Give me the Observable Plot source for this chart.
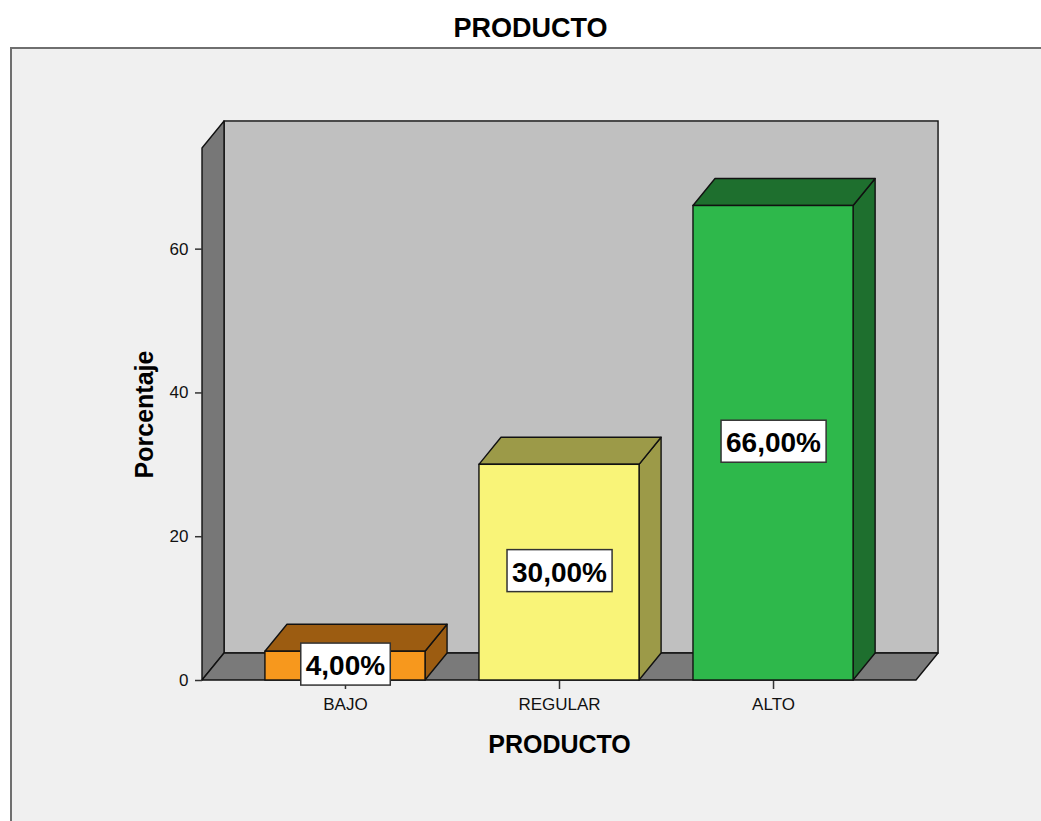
<!DOCTYPE html>
<html>
<head>
<meta charset="utf-8">
<script src="https://cdn.jsdelivr.net/npm/d3@7"></script>
<script src="https://cdn.jsdelivr.net/npm/@observablehq/plot@0.6"></script>
<style>
  html, body { margin: 0; padding: 0; background: #ffffff; overflow: hidden; }
  body { width: 1041px; height: 821px; position: relative; font-family: "Liberation Sans", Arial, sans-serif; }
  #title { position: absolute; left: 0; top: 15px; width: 1061px; text-align: center; font-size: 27px; font-weight: bold; line-height: 27px; color: #000; }
  #frame { position: absolute; left: 10px; top: 47px; width: 1100px; height: 900px; border-left: 2px solid #6f6f6f; border-top: 2px solid #6f6f6f; background: #f0f0f0; }
  #chart { position: absolute; left: 0; top: 48px; width: 1041px; height: 773px; }
</style>
</head>
<body>
<div id="title">PRODUCTO</div>
<div id="frame"></div>
<div id="chart"></div>
<script>
// ---- data ----
const categorias = ["BAJO", "REGULAR", "ALTO"];
const porcentajes = [4, 30, 66];
const etiquetas = ["4,00%", "30,00%", "66,00%"];
const ticksY = [0, 20, 40, 60];
const tituloX = "PRODUCTO";
const tituloY = "Porcentaje";

// ---- styles ----
const coloresFrente = ["#f7981d", "#f9f478", "#2eb84b"];
const coloresLado = ["#9c5c11", "#9c9a48", "#1e6f2e"];

// layout constants (scale units)
const halfW = 0.374;          // half bar width in category units
const x0 = -0.668, xe = 2.668; // floor extent
const yTop = 74;              // top of wall (value units)
const dxU = 0.103;            // depth offset in x units
const dyU = 3.76;             // depth offset in y units

const rows = categorias.map((c, i) => ({
  cat: c, i, v: porcentajes[i], label: etiquetas[i],
  front: coloresFrente[i], side: coloresLado[i]
}));

const topFaces = rows.flatMap(d => [
  {cat: d.cat, y: d.v, x1: d.i - halfW, x2: d.i + halfW, fill: d.side},
  {cat: d.cat, y: d.v + dyU, x1: d.i - halfW + dxU, x2: d.i + halfW + dxU, fill: d.side}
]);
const sideFaces = rows.flatMap(d => [
  {cat: d.cat, x: d.i + halfW, y1: 0, y2: d.v, fill: d.side},
  {cat: d.cat, x: d.i + halfW + dxU, y1: dyU, y2: d.v + dyU, fill: d.side}
]);
const backWall = [{x1: x0 + dxU, x2: xe + dxU, y1: dyU, y2: yTop + dyU}];
const leftWall = [
  {x: x0, y1: 0, y2: yTop},
  {x: x0 + dxU, y1: dyU, y2: yTop + dyU}
];
const floor = [
  {y: 0, x1: x0, x2: xe},
  {y: dyU, x1: x0 + dxU, x2: xe + dxU}
];

const edge = "#111";
const sw = 1.4;

const plot = Plot.plot({
  width: 1041,
  height: 773,
  marginLeft: 202,
  marginRight: 125,
  marginTop: 100,
  marginBottom: 141,
  style: {fontFamily: "'Liberation Sans', Arial, sans-serif", background: "transparent", overflow: "visible", color: "#111"},
  x: {domain: [x0, xe]},
  y: {domain: [0, yTop]},
  color: {type: "identity"},
  marks: [
    Plot.rect(backWall, {x1: "x1", x2: "x2", y1: "y1", y2: "y2", fill: "#c0c0c0", stroke: edge, strokeWidth: sw}),
    Plot.areaY(leftWall, {x: "x", y1: "y1", y2: "y2", fill: "#777777", stroke: edge, strokeWidth: sw}),
    Plot.areaX(floor, {y: "y", x1: "x1", x2: "x2", fill: "#7a7a7a", stroke: edge, strokeWidth: sw}),
    Plot.axisY(ticksY, {label: null, tickSize: 7, tickPadding: 7, fontSize: 17, stroke: "#333", strokeWidth: 1.5}),
    Plot.axisX([0, 1, 2], {label: null, tickFormat: i => categorias[i], tickSize: 9, tickPadding: 8, fontSize: 17, stroke: "#333", strokeWidth: 1.5}),
    Plot.areaY(sideFaces, {x: "x", y1: "y1", y2: "y2", z: "cat", fill: "fill", stroke: edge, strokeWidth: sw}),
    Plot.areaX(topFaces, {y: "y", x1: "x1", x2: "x2", z: "cat", fill: "fill", stroke: edge, strokeWidth: sw}),
    Plot.rect(rows, {x1: d => d.i - halfW, x2: d => d.i + halfW, y1: 0, y2: "v", fill: "front", stroke: edge, strokeWidth: sw}),
    Plot.text([tituloY], {frameAnchor: "left", textAnchor: "middle", lineAnchor: "middle", rotate: -90, dx: -58, fontSize: 25, fontWeight: "bold", fill: "#000"}),
    Plot.text([tituloX], {frameAnchor: "bottom", lineAnchor: "middle", dy: 64, fontSize: 25, fontWeight: "bold", fill: "#000"}),
    Plot.text(rows, {x: "i", y: d => d.v / 2, text: "label", fontSize: 28, fontWeight: "bold", fill: "#000"})
  ]
});

document.getElementById("chart").appendChild(plot);

// white boxes behind value labels (last text mark)
const textGroups = plot.querySelectorAll('g[aria-label="text"]');
const labelGroup = textGroups[textGroups.length - 1];
labelGroup.querySelectorAll("text").forEach(function(t) {
  const b = t.getBBox();
  const padX = 5, padTop = 7, padBottom = 4;
  const r = document.createElementNS("http://www.w3.org/2000/svg", "rect");
  r.setAttribute("x", b.x - padX);
  r.setAttribute("y", b.y - padTop);
  r.setAttribute("width", b.width + 2 * padX);
  r.setAttribute("height", b.height + padTop + padBottom);
  r.setAttribute("fill", "#ffffff");
  r.setAttribute("stroke", "#333");
  r.setAttribute("stroke-width", "1.5");
  const tr = t.getAttribute("transform");
  if (tr) r.setAttribute("transform", tr);
  t.parentNode.insertBefore(r, t);
});
</script>
</body>
</html>
